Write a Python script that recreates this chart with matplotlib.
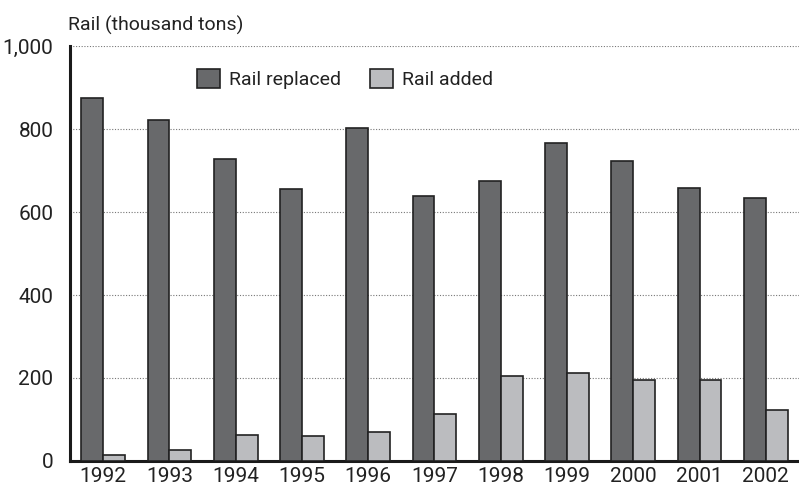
import numpy as np
import matplotlib.pyplot as plt
from matplotlib.ticker import FuncFormatter

plt.rcParams['font.family'] = ['Roboto', 'DejaVu Sans']

years = ["1992", "1993", "1994", "1995", "1996", "1997", "1998", "1999", "2000", "2001", "2002"]
rail_replaced = [875, 822, 728, 655, 802, 638, 675, 766, 723, 658, 634]
rail_added = [14, 26, 63, 61, 70, 113, 205, 212, 195, 196, 123]
yticks = [0, 200, 400, 600, 800, 1000]

x = np.arange(len(years))
w = 0.33

fig = plt.figure(figsize=(7.99, 4.87), dpi=100)
ax = fig.add_axes([0.0876, 0.0534, 0.9124, 0.8521])

ax.bar(x - w/2, rail_replaced, w, color="#68696b", edgecolor="#222222", linewidth=1.2,
       label="Rail replaced", zorder=3)
ax.bar(x + w/2, rail_added, w, color="#bbbcbf", edgecolor="#222222", linewidth=1.2,
       label="Rail added", zorder=3)

ax.set_xlim(-0.5, len(years) - 0.5)
ax.set_ylim(0, 1000)
ax.set_yticks(yticks)
ax.yaxis.set_major_formatter(FuncFormatter(lambda v, p: f"{int(v):,}"))
ax.set_xticks(x)
ax.set_xticklabels(years)
ax.tick_params(axis="both", length=0, labelsize=15, colors="#222222")
ax.tick_params(axis="y", pad=12)
ax.tick_params(axis="x", pad=4)

# dotted gridlines behind bars
ax.grid(axis="y", linestyle=(0, (1, 1.5)), color="#777777", linewidth=0.8, zorder=0)
for s in ["top", "right"]:
    ax.spines[s].set_visible(False)
ax.spines["left"].set_linewidth(2.2)
ax.spines["bottom"].set_linewidth(2.2)
ax.spines["left"].set_color("#1a1a1a")
ax.spines["bottom"].set_color("#1a1a1a")

ax.legend(loc="upper left", bbox_to_anchor=(0.15, 0.988), ncol=2, frameon=False,
          fontsize=14, handlelength=1.2, handleheight=1.2, handletextpad=0.45,
          columnspacing=1.5, labelcolor="#222222")

fig.text(0.085, 0.929, "Rail (thousand tons)", fontsize=14, color="#222222",
         ha="left", va="bottom")

fig.savefig("out.png", dpi=100)
